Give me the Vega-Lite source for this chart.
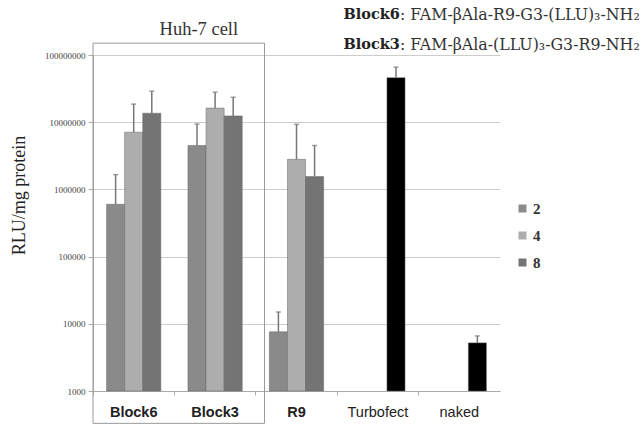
{
  "$schema": "https://vega.github.io/schema/vega-lite/v6.json",
  "autosize": "none",
  "width": 407,
  "height": 336,
  "padding": {"left": 93, "top": 55, "right": 143, "bottom": 34},
  "background": "white",
  "config": {
    "view": {"stroke": null},
    "axisY": {"grid": true, "gridColor": "#cccccc", "domainColor": "#aaaaaa", "tickColor": "#aaaaaa", "tickSize": 5,
      "labelFont": "Liberation Serif", "labelFontSize": 9, "labelColor": "#444444", "labelPadding": 3,
      "titleFont": "Liberation Serif", "titleFontSize": 18, "titleFontWeight": "normal", "titleColor": "#222222", "titlePadding": 16, "titleY": 140}
  },
  "data": {"values": [
    {"group": "Block6", "series": "2", "type": "2", "value": 600000, "err": 1660000},
    {"group": "Block6", "series": "4", "type": "4", "value": 7100000, "err": 18600000},
    {"group": "Block6", "series": "8", "type": "8", "value": 13600000, "err": 29000000},
    {"group": "Block3", "series": "2", "type": "2", "value": 4500000, "err": 9400000},
    {"group": "Block3", "series": "4", "type": "4", "value": 16200000, "err": 28000000},
    {"group": "Block3", "series": "8", "type": "8", "value": 12400000, "err": 23500000},
    {"group": "R9", "series": "2", "type": "2", "value": 7600, "err": 15000},
    {"group": "R9", "series": "4", "type": "4", "value": 2800000, "err": 9300000},
    {"group": "R9", "series": "8", "type": "8", "value": 1550000, "err": 4500000},
    {"group": "Turbofect", "series": "8", "type": "control", "value": 46000000, "err": 66000000},
    {"group": "naked", "series": "8", "type": "control", "value": 5200, "err": 6600}
  ]},
  "encoding": {
    "x": {"field": "group", "type": "nominal", "sort": ["Block6", "Block3", "R9", "Turbofect", "naked"],
      "scale": {"paddingInner": 0, "paddingOuter": 0},
      "axis": {"title": null, "bandPosition": 0, "labelAngle": 0, "domainColor": "#aaaaaa", "tickColor": "#aaaaaa", "tickSize": 4,
        "labelFont": "Liberation Sans", "labelFontSize": 14.5, "labelColor": "#222222", "labelPadding": 10,
        "labelFontWeight": {"expr": "indexof(['Block6','Block3','R9'], datum.value) >= 0 ? 'bold' : 'normal'"}}},
    "xOffset": {"field": "series", "type": "nominal", "sort": ["2", "4", "8"], "scale": {"domain": ["2", "4", "8"], "paddingInner": 0, "paddingOuter": 0.75}}
  },
  "layer": [
    {
      "mark": {"type": "bar", "stroke": "#666666", "strokeWidth": 0.5},
      "encoding": {
        "y": {"field": "value", "type": "quantitative",
          "scale": {"type": "log", "domain": [1000, 100000000], "nice": false},
          "axis": {"title": "RLU/mg protein", "values": [1000, 10000, 100000, 1000000, 10000000, 100000000], "format": "d"}},
        "y2": {"datum": 1000},
        "color": {"field": "type", "type": "nominal",
          "scale": {"domain": ["2", "4", "8", "control"], "range": ["#8a8a8a", "#adadad", "#747474", "#000000"]},
          "legend": {"title": null, "values": ["2", "4", "8"], "orient": "none", "legendX": 422, "legendY": 146,
            "symbolType": "square", "symbolSize": 64, "symbolStrokeWidth": 0, "labelFont": "Liberation Serif", "labelFontSize": 15,
            "labelFontWeight": "bold", "labelColor": "#333333", "rowPadding": 11, "labelOffset": 3}}
      }
    },
    {
      "mark": {"type": "rule", "color": "#777777", "strokeWidth": 1.5},
      "encoding": {"y": {"field": "value", "type": "quantitative"}, "y2": {"field": "err"}}
    },
    {
      "mark": {"type": "tick", "color": "#777777", "thickness": 1.5},
      "encoding": {"y": {"field": "err", "type": "quantitative"}, "size": {"value": 5}}
    },
    {
      "data": {"values": [{}]},
      "mark": {"type": "rect", "fill": null, "stroke": "#999999", "strokeWidth": 1, "x2Offset": -32},
      "encoding": {"x": {"datum": "Block6", "bandPosition": 0}, "x2": {"datum": "R9"}, "y": {"datum": 150000000}, "y2": {"datum": 330}, "xOffset": null}
    },
    {
      "data": {"values": [{}]},
      "mark": {"type": "text", "font": "Liberation Serif", "fontSize": 18.5, "color": "#333333", "align": "center", "baseline": "middle"},
      "encoding": {"x": {"datum": "Block3", "bandPosition": 0.3}, "y": {"datum": 240000000}, "text": {"value": "Huh-7 cell"}, "xOffset": null}
    },
    {
      "data": {"values": [{}]},
      "mark": {"type": "text", "font": "DejaVu Serif", "fontSize": 14.5, "fontWeight": "bold", "color": "#222222", "align": "right", "baseline": "middle"},
      "encoding": {"x": {"datum": "Turbofect", "bandPosition": 0.77}, "y": {"datum": 390000000}, "text": {"value": "Block6"}, "xOffset": null}
    },
    {
      "data": {"values": [{}]},
      "mark": {"type": "text", "font": "DejaVu Serif", "fontSize": 15.8, "color": "#333333", "align": "left", "baseline": "middle"},
      "encoding": {"x": {"datum": "Turbofect", "bandPosition": 0.77}, "y": {"datum": 390000000}, "text": {"value": ": FAM-βAla-R9-G3-(LLU)₃-NH₂"}, "xOffset": null}
    },
    {
      "data": {"values": [{}]},
      "mark": {"type": "text", "font": "DejaVu Serif", "fontSize": 14.5, "fontWeight": "bold", "color": "#222222", "align": "right", "baseline": "middle"},
      "encoding": {"x": {"datum": "Turbofect", "bandPosition": 0.77}, "y": {"datum": 142000000}, "text": {"value": "Block3"}, "xOffset": null}
    },
    {
      "data": {"values": [{}]},
      "mark": {"type": "text", "font": "DejaVu Serif", "fontSize": 15.8, "color": "#333333", "align": "left", "baseline": "middle"},
      "encoding": {"x": {"datum": "Turbofect", "bandPosition": 0.77}, "y": {"datum": 142000000}, "text": {"value": ": FAM-βAla-(LLU)₃-G3-R9-NH₂"}, "xOffset": null}
    }
  ]
}
